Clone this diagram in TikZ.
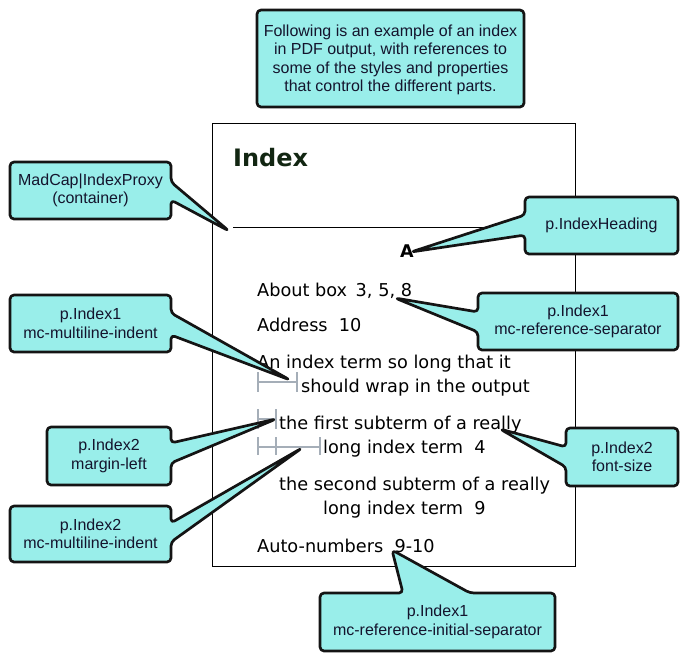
\documentclass[tikz,border=0pt]{standalone}
\usepackage{fontspec}
\setmainfont{Liberation Sans}
\newfontfamily\entryfont{DejaVu Sans}
\usetikzlibrary{calc}

\definecolor{cfill}{RGB}{153,238,234}
\definecolor{cline}{RGB}{20,20,20}
\definecolor{ctext}{RGB}{20,20,45}
\definecolor{headgreen}{RGB}{18,38,18}
\definecolor{markgray}{RGB}{165,174,184}

\tikzset{
  callout/.style={fill=cfill, draw=cline, line width=2.7pt, rounded corners=4pt, line join=round},
  calltext/.style={align=center, inner sep=0pt, text=ctext, font=\fontsize{16}{18.5}\selectfont},
  entry/.style={anchor=base west, inner sep=0pt, font=\entryfont\fontsize{17.7}{20}\selectfont},
  marker/.style={draw=markgray, line width=1.6pt},
  page/.style={draw=black, line width=1pt}
}

\begin{document}
\begin{tikzpicture}[x=1pt,y=-1pt]
\useasboundingbox (0,0) rectangle (689,662);

% the sample page
\draw[page] (212,123) rectangle (575,566);
\coordinate (rulestart) at (233,227);
\coordinate (ruleend) at (575,227);
\draw[page] (rulestart) -- (ruleend);

\node[anchor=base west, inner sep=0pt, text=headgreen,
      font=\entryfont\bfseries\fontsize{24}{28}\selectfont] (heading) at (233,166) {Index};
\node[anchor=base west, inner sep=0pt,
      font=\entryfont\bfseries\fontsize{17.5}{20}\selectfont] (letterA) at (400,257) {A};

\node[entry] (e1)  at (257,296) {About box\,\ 3, 5, 8};
\node[entry] (e2)  at (257,331) {Address\ \ 10};
\node[entry] (e3a) at (257,368) {An index term so long that it};
\node[entry] (e3b) at (301,392) {should wrap in the output};
\node[entry] (e4a) at (279,429) {the first subterm of a really};
\node[entry] (e4b) at (323,453) {long index term\ \ 4};
\node[entry] (e5a) at (279,490) {the second subterm of a really};
\node[entry] (e5b) at (323,514) {long index term\ \ 9};
\node[entry] (e6)  at (257,552) {Auto-numbers\ \ 9-10};

% indent markers
\draw[marker] (258,372) -- (258,392) (297,372) -- (297,392) (258,382) -- (297,382);
\draw[marker] (258,409) -- (258,429) (276,409) -- (276,429) (258,419) -- (276,419);
\draw[marker] (258,437) -- (258,455) (276,437) -- (276,455) (320,437) -- (320,455) (258,447) -- (320,447);

% pointer tips
\coordinate (tipProxy)   at (229,231);
\coordinate (tipHead)    at (411,252);
\coordinate (tipSep)     at (395,298);
\coordinate (tipMulti1)  at (290,380);
\coordinate (tipMargin)  at (276,419);
\coordinate (tipFont)    at (500,429);
\coordinate (tipMulti2)  at (302,448);
\coordinate (tipInitial) at (392,550);

% callout outlines
\draw[callout] (257,10) rectangle (524,107);
\draw[callout] (171,182) -- (tipProxy) -- (171,200) -- (171,219) -- (10,219) -- (10,162) -- (171,162) -- cycle;
\draw[callout] (525,215) -- (tipHead) -- (525,235) -- (525,254) -- (678,254) -- (678,197) -- (525,197) -- cycle;
\draw[callout] (478,312) -- (tipSep) -- (478,332) -- (478,350) -- (678,350) -- (678,293) -- (478,293) -- cycle;
\draw[callout] (171,313) -- (tipMulti1) -- (171,335) -- (171,352) -- (10,352) -- (10,295) -- (171,295) -- cycle;
\draw[callout] (171,443) -- (tipMargin) -- (171,463) -- (171,485) -- (47,485) -- (47,427) -- (171,427) -- cycle;
\draw[callout] (566,447) -- (tipFont) -- (566,467) -- (566,486) -- (678,486) -- (678,428) -- (566,428) -- cycle;
\draw[callout] (171,523) -- (tipMulti2) -- (171,542) -- (171,562) -- (10,562) -- (10,506) -- (171,506) -- cycle;
\draw[callout] (403,593) -- (tipInitial) -- (470,593) -- (555,593) -- (555,651) -- (320,651) -- (320,593) -- cycle;

% callout texts
\node[calltext] (intro) at (390.5,60) {Following is an example of an index\\in PDF output, with references to\\some of the styles and properties\\that control the different parts.};
\node[calltext] (proxy)   at (90.5,190.5) {MadCap|IndexProxy\\(container)};
\node[calltext] (pheading) at (601.5,225.5) {p.IndexHeading};
\node[calltext] (psep)    at (578,321.5) {p.Index1\\mc-reference-separator};
\node[calltext] (pmulti1) at (90.5,323.5) {p.Index1\\mc-multiline-indent};
\node[calltext] (pmargin) at (109,456) {p.Index2\\margin-left};
\node[calltext] (pfont)   at (622,457) {p.Index2\\font-size};
\node[calltext] (pmulti2) at (90.5,534) {p.Index2\\mc-multiline-indent};
\node[calltext] (pinit)   at (437.5,622) {p.Index1\\mc-reference-initial-separator};
\end{tikzpicture}
\end{document}
